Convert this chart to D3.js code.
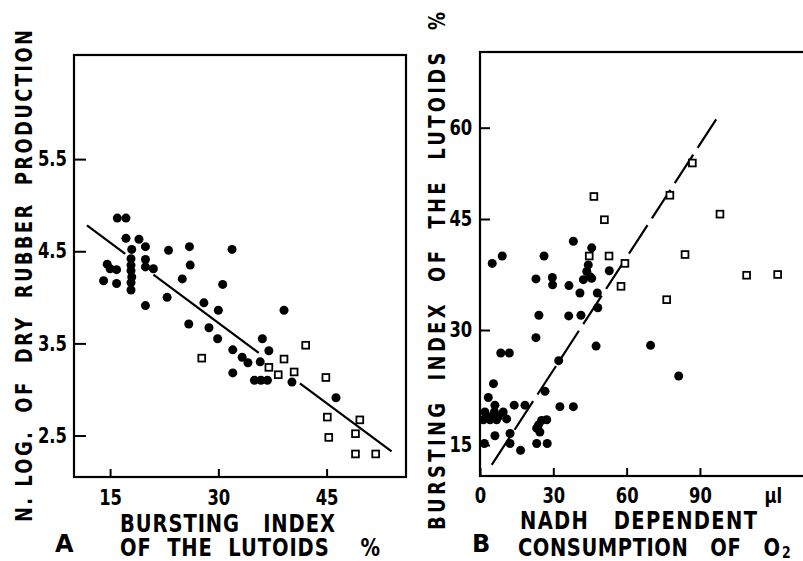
<!DOCTYPE html>
<html>
<head>
<meta charset="utf-8">
<script src="https://cdn.jsdelivr.net/npm/d3@7/dist/d3.min.js"></script>
<style>
    body { margin: 0; background: #fff; }
    svg text {
        font-family: "DejaVu Sans", "Liberation Sans", sans-serif;
        font-weight: bold;
        fill: #000;
        white-space: pre;
    }
    .tick line { stroke: #000; stroke-width: 2; }
</style>
</head>
<body>
<div id="chart"></div>
<script>
// ---- panel A : bursting index (%) vs N. log of dry rubber production
var aDotBurst = [14.1, 14.6, 15.0, 15.9, 15.9, 16.0, 17.2, 17.2, 18.0, 17.9, 17.9, 17.9, 18.0, 17.9, 17.9,
    19.0, 19.9, 19.9, 19.9, 21.0, 19.9, 23.1, 22.9, 25.0, 26.0, 26.1, 25.9, 28.0, 28.7, 29.9,
    30.0, 30.6, 31.9, 32.0, 32.0, 33.3, 34.1, 36.1, 35.8, 37.0, 35.0, 35.9, 36.8, 39.1, 40.2, 46.3];
var aDotLog = [4.18, 4.36, 4.31, 4.30, 4.15, 4.86, 4.86, 4.64, 4.52, 4.42, 4.35, 4.29, 4.22, 4.16, 4.08,
    4.63, 4.55, 4.41, 4.33, 4.31, 3.91, 4.51, 4.00, 4.20, 4.55, 4.35, 3.71, 3.94, 3.67, 3.55,
    3.86, 4.14, 4.52, 3.43, 3.18, 3.35, 3.29, 3.55, 3.30, 3.42, 3.10, 3.10, 3.10, 3.86, 3.08, 2.91];
var aSqBurst = [27.7, 37.0, 38.3, 39.1, 40.5, 42.1, 44.9, 45.1, 45.3, 49.6, 49.0, 49.0, 51.8];
var aSqLog = [3.34, 3.24, 3.16, 3.33, 3.19, 3.48, 3.13, 2.70, 2.48, 2.67, 2.52, 2.30, 2.30];
var aFitIntercept = 5.466;
var aFitSlope = -0.0581;
// the printed fit line is broken where it crosses the point clusters
var aFitPieces = [[11.8, 17.1], [21.0, 35.6], [41.3, 54.0]];
var aTicksX = [15, 30, 45];
var aTicksY = [2.5, 3.5, 4.5, 5.5];

// ---- panel B : NADH dependent O2 consumption (ul) vs bursting index (%)
var bDotNadh = [38.2, 45.7, 9.1, 5.0, 26.2, 44.3, 43.7, 45.0, 42.3, 45.7, 52.9, 22.9, 29.6, 29.7, 36.4,
    40.9, 48.0, 48.2, 24.1, 36.3, 41.3, 22.9, 47.5, 69.8, 8.5, 12.0, 32.2, 5.5, 26.6, 3.4,
    6.1, 14.0, 18.4, 32.7, 38.2, 2.0, 5.9, 9.5, 3.4, 5.4, 7.5, 1.4, 4.1, 6.8, 10.9,
    25.2, 27.3, 23.9, 23.2, 24.5, 12.3, 6.1, 1.8, 12.3, 23.2, 27.5, 16.6, 81.3];
var bDotBurst = [42.0, 41.1, 40.0, 39.0, 40.0, 38.8, 37.9, 37.2, 36.8, 37.0, 38.0, 36.9, 37.1, 36.1, 36.0,
    35.0, 35.0, 33.0, 32.0, 31.9, 32.0, 29.0, 27.9, 28.0, 27.0, 27.0, 26.0, 23.0, 22.0, 21.2,
    20.2, 20.2, 20.2, 20.0, 20.0, 19.3, 19.3, 19.3, 18.7, 18.7, 18.7, 18.3, 18.3, 18.3, 18.4,
    18.2, 18.3, 17.6, 17.2, 16.7, 16.5, 16.2, 15.2, 15.2, 15.2, 15.2, 14.3, 24.0];
var bSqNadh = [46.6, 50.9, 86.9, 77.7, 98.2, 44.7, 52.8, 59.3, 57.7, 83.9, 76.4, 109.1, 121.8];
var bSqBurst = [48.7, 44.9, 54.2, 48.9, 45.8, 40.0, 40.0, 39.0, 35.9, 40.2, 34.1, 37.4, 37.5];
var bFitNadh = [4.8, 97.2];
var bFitBurst = [12.4, 61.7];
var bTicksX = [0, 30, 60, 90];
var bTicksY = [15, 30, 45, 60];

var svgWidth = 803;
var svgHeight = 561;
var squeeze = 0.78;   // the printed lettering is narrow

var svg = d3.select("#chart")
    .append("svg")
    .attr("width", svgWidth)
    .attr("height", svgHeight);

// narrow, widely spaced lettering like the original figure
function addTitle(parent, str, x, y, size, len, angle, anchor) {
    return parent.append("text")
        .attr("transform", `translate(${x}, ${y}) rotate(${angle}) scale(${squeeze}, 1)`)
        .attr("text-anchor", anchor)
        .attr("font-size", size)
        .attr("textLength", len / squeeze)
        .attr("lengthAdjust", "spacing")
        .text(str);
}

function narrowTicks(g, size) {
    g.select(".domain").remove();
    g.selectAll("text")
        .attr("font-size", size)
        .attr("transform", `scale(${squeeze}, 1)`);
}

// ================= PANEL A =================
var aBox = {left: 74, top: 55, right: 406, bottom: 477};

var xA = d3.scaleLinear().domain([10, 56]).range([aBox.left, aBox.right]);
var yA = d3.scaleLinear().domain([2.05, 6.63]).range([aBox.bottom, aBox.top]);

var panelA = svg.append("g");

// ticks point inwards
panelA.append("g")
    .attr("transform", `translate(0, ${aBox.bottom})`)
    .call(d3.axisBottom(xA).tickValues(aTicksX).tickSize(-8).tickPadding(13))
    .call(g => narrowTicks(g, 21));

panelA.append("g")
    .attr("transform", `translate(${aBox.left}, 0)`)
    .call(d3.axisLeft(yA).tickValues(aTicksY).tickSize(-12).tickPadding(9).tickFormat(d3.format(".1f")))
    .call(g => narrowTicks(g, 21));

panelA.append("rect")
    .attr("x", aBox.left)
    .attr("y", aBox.top)
    .attr("width", aBox.right - aBox.left)
    .attr("height", aBox.bottom - aBox.top)
    .attr("fill", "none")
    .attr("stroke", "black")
    .attr("stroke-width", 2.2);

// fit line pieces
panelA.append("g")
    .selectAll("line")
    .data(aFitPieces)
    .enter()
    .append("line")
    .attr("x1", d => xA(d[0]))
    .attr("y1", d => yA(aFitIntercept + aFitSlope * d[0]))
    .attr("x2", d => xA(d[1]))
    .attr("y2", d => yA(aFitIntercept + aFitSlope * d[1]))
    .attr("stroke", "black")
    .attr("stroke-width", 2.2);

panelA.append("g")
    .selectAll("circle")
    .data(d3.range(aDotBurst.length))
    .enter()
    .append("circle")
    .attr("cx", i => xA(aDotBurst[i]))
    .attr("cy", i => yA(aDotLog[i]))
    .attr("r", 4.5)
    .attr("fill", "black");

panelA.append("g")
    .selectAll("rect")
    .data(d3.range(aSqBurst.length))
    .enter()
    .append("rect")
    .attr("x", i => xA(aSqBurst[i]) - 3.4)
    .attr("y", i => yA(aSqLog[i]) - 3.4)
    .attr("width", 6.8)
    .attr("height", 6.8)
    .attr("fill", "white")
    .attr("stroke", "black")
    .attr("stroke-width", 1.8);

// labels A
addTitle(panelA, "N. LOG.  OF  DRY  RUBBER  PRODUCTION", 32, 276, 23, 492, -90, "middle");
addTitle(panelA, "BURSTING   INDEX", 120, 532, 25, 215, 0, "start");
addTitle(panelA, "OF  THE  LUTOIDS    %", 120, 556, 25, 260, 0, "start");

panelA.append("text")
    .attr("x", 55).attr("y", 552)
    .attr("font-size", 24)
    .text("A");

// ================= PANEL B =================
var bBox = {left: 480, top: 52, right: 806, bottom: 476};

var xB = d3.scaleLinear().domain([0, 133.4]).range([bBox.left, bBox.right]);
// the printed y axis has uneven tick spacing, so follow it piece by piece
var yB = d3.scaleLinear()
    .domain([10.96, 15, 30, 45, 60, 72.4])
    .range([bBox.bottom, 445, 330, 219, 127.7, bBox.top]);

var panelB = svg.append("g");

panelB.append("g")
    .attr("transform", `translate(0, ${bBox.bottom})`)
    .call(d3.axisBottom(xB).tickValues(bTicksX).tickSize(-8).tickPadding(12))
    .call(g => narrowTicks(g, 21));

panelB.append("text")
    .attr("transform", `translate(${xB(120)}, ${bBox.bottom + 27}) scale(${squeeze}, 1)`)
    .attr("text-anchor", "middle")
    .attr("font-size", 21)
    .text("µl");

panelB.append("g")
    .attr("transform", `translate(${bBox.left}, 0)`)
    .call(d3.axisLeft(yB).tickValues(bTicksY).tickSize(-10).tickPadding(10))
    .call(g => narrowTicks(g, 21));

panelB.append("rect")
    .attr("x", bBox.left)
    .attr("y", bBox.top)
    .attr("width", bBox.right - bBox.left)
    .attr("height", bBox.bottom - bBox.top)
    .attr("fill", "none")
    .attr("stroke", "black")
    .attr("stroke-width", 2.2);

var fitLine = d3.line()
    .x(i => xB(bFitNadh[i]))
    .y(i => yB(bFitBurst[i]));

panelB.append("path")
    .attr("d", fitLine(d3.range(bFitNadh.length)))
    .attr("fill", "none")
    .attr("stroke", "black")
    .attr("stroke-width", 2.2)
    .attr("stroke-dasharray", "34,8");

panelB.append("g")
    .selectAll("circle")
    .data(d3.range(bDotNadh.length))
    .enter()
    .append("circle")
    .attr("cx", i => xB(bDotNadh[i]))
    .attr("cy", i => yB(bDotBurst[i]))
    .attr("r", 4.5)
    .attr("fill", "black");

panelB.append("g")
    .selectAll("rect")
    .data(d3.range(bSqNadh.length))
    .enter()
    .append("rect")
    .attr("x", i => xB(bSqNadh[i]) - 3.4)
    .attr("y", i => yB(bSqBurst[i]) - 3.4)
    .attr("width", 6.8)
    .attr("height", 6.8)
    .attr("fill", "white")
    .attr("stroke", "black")
    .attr("stroke-width", 1.8);

// labels B
addTitle(panelB, "BURSTING  INDEX  OF  THE  LUTOIDS  %", 445, 271, 23, 518, -90, "middle");
addTitle(panelB, "NADH   DEPENDENT", 520, 529, 25, 237, 0, "start");
addTitle(panelB, "CONSUMPTION   OF   O", 518, 556, 25, 262, 0, "start");

panelB.append("text")
    .attr("transform", `translate(782, 558) scale(${squeeze}, 1)`)
    .attr("font-size", 16)
    .text("2");

panelB.append("text")
    .attr("x", 472).attr("y", 552)
    .attr("font-size", 24)
    .text("B");
</script>
</body>
</html>
